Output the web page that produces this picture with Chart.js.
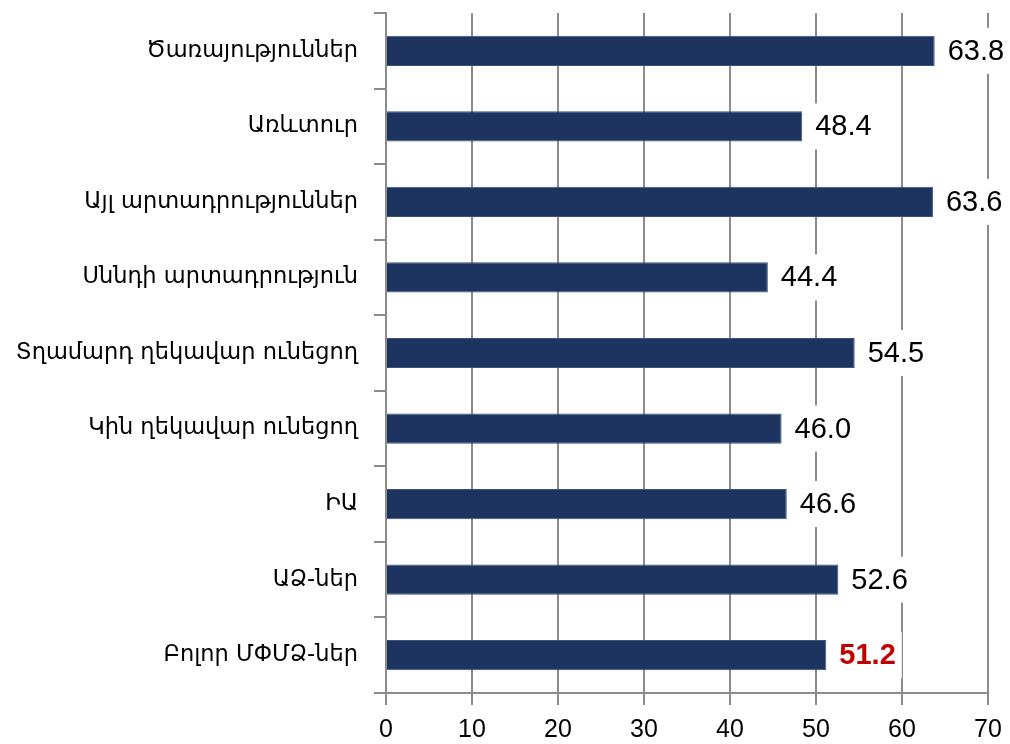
<!DOCTYPE html>
<html>
<head>
<meta charset="utf-8">
<script src="https://cdn.jsdelivr.net/npm/chart.js@4"></script>
<style>
    html, body { margin: 0; padding: 0; background: #fff; }
    #wrap { width: 1010px; height: 744px; }
</style>
</head>
<body>
<div id="wrap"><canvas id="chart" width="1010" height="744"></canvas></div>
<script>
const categories = [
    'Ծառայություններ',
    'Առևտուր',
    'Այլ արտադրություններ',
    'Սննդի արտադրություն',
    'Տղամարդ ղեկավար ունեցող',
    'Կին ղեկավար ունեցող',
    'ԻԱ',
    'ԱՁ-ներ',
    'Բոլոր ՄՓՄՁ-ներ'
];
const values = [63.8, 48.4, 63.6, 44.4, 54.5, 46.0, 46.6, 52.6, 51.2];
const xTicks = [0, 10, 20, 30, 40, 50, 60, 70];

const GRID = '#8c8c8c';
const NUM_FONT = "'Liberation Sans', Arial, sans-serif";

// draws the value next to each bar, on a white box (it hides the gridline behind)
const valueLabels = {
    id: 'valueLabels',
    afterDatasetsDraw(chart) {
        const ctx = chart.ctx;
        const meta = chart.getDatasetMeta(0);
        ctx.save();
        meta.data.forEach((bar, i) => {
            const last = i === values.length - 1;
            const txt = values[i].toFixed(1);
            ctx.font = (last ? 'bold ' : '') + '29px ' + NUM_FONT;
            const w = ctx.measureText(txt).width;
            const x = bar.x + 13;
            ctx.fillStyle = '#fff';
            ctx.fillRect(x - 6, bar.y - 23, w + 12, 46);
            ctx.fillStyle = last ? '#c00000' : '#000';
            ctx.textAlign = 'left';
            ctx.textBaseline = 'middle';
            ctx.fillText(txt, x, bar.y + 1);
        });
        ctx.restore();
    }
};

new Chart(document.getElementById('chart').getContext('2d'), {
    type: 'bar',
    data: {
        labels: categories,
        datasets: [{
            data: values,
            backgroundColor: '#1d3461',
            borderColor: '#3a5080',
            borderWidth: 1,
            barPercentage: 0.4,
            categoryPercentage: 1
        }]
    },
    options: {
        indexAxis: 'y',
        responsive: false,
        animation: false,
        layout: { padding: { left: 0, top: 13, right: 22, bottom: 0 } },
        plugins: {
            legend: { display: false },
            tooltip: { enabled: false }
        },
        scales: {
            x: {
                min: 0,
                max: 70,
                afterFit: scale => {
                    scale.height = 51;
                    scale.paddingLeft = 0;
                    scale.paddingRight = 0;
                },
                afterBuildTicks: scale => { scale.ticks = xTicks.map(v => ({ value: v })); },
                ticks: {
                    color: '#000',
                    padding: 10,
                    font: { family: NUM_FONT, size: 25 }
                },
                grid: { color: GRID, lineWidth: 2, tickLength: 12 },
                border: { color: GRID, width: 2 }
            },
            y: {
                afterFit: scale => {
                    scale.width = 386;
                    scale.paddingTop = 0;
                    scale.paddingBottom = 0;
                },
                ticks: {
                    color: '#000',
                    padding: 16,
                    font: { family: "'DejaVu Sans', sans-serif", size: 22.5 }
                },
                grid: {
                    drawOnChartArea: false,
                    offset: true,
                    tickLength: 12,
                    color: GRID,
                    lineWidth: 2
                },
                border: { color: GRID, width: 2 }
            }
        }
    },
    plugins: [valueLabels]
});
</script>
</body>
</html>
